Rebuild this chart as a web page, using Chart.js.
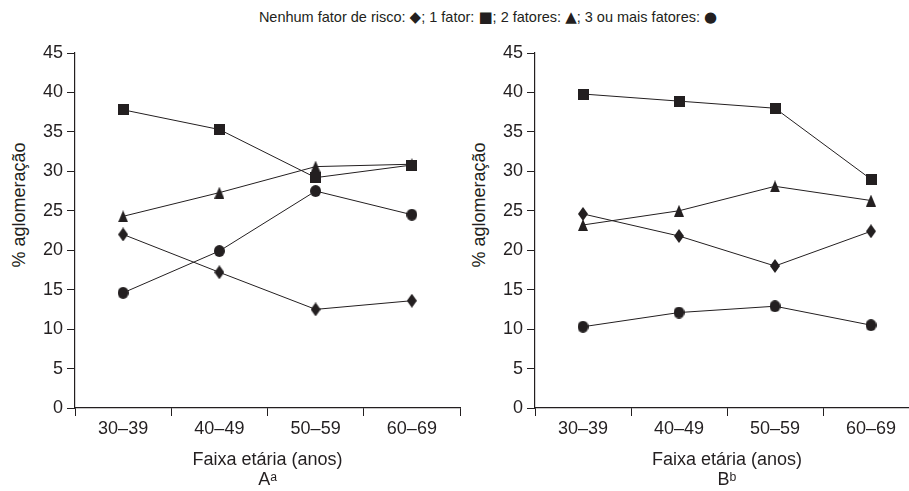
<!DOCTYPE html>
<html><head><meta charset="utf-8">
<script src="https://cdn.jsdelivr.net/npm/chart.js@4/dist/chart.umd.min.js"></script>
<style>
html,body{margin:0;padding:0;width:909px;height:491px;overflow:hidden;background:#fff;font-family:"Liberation Sans",Arial,sans-serif;color:#231f20;}
#title{position:absolute;left:0;width:976px;top:7px;text-align:center;font-size:14.5px;line-height:20px;white-space:nowrap;}
#title .s{font-family:"DejaVu Sans",sans-serif;font-size:15px;}
.ylab{position:absolute;font-size:18px;white-space:nowrap;transform:translate(-50%,-50%) rotate(-90deg);}
#wa{position:absolute;left:0;top:0;width:470px;height:491px;}
#wb{position:absolute;left:460px;top:0;width:469px;height:491px;}
</style></head>
<body>
<div id="title">Nenhum fator de risco: <span class="s">◆</span>; 1 fator: <span class="s">■</span>; 2 fatores: <span class="s">▲</span>; 3 ou mais fatores: <span class="s">●</span></div>
<div class="ylab" style="left:19px;top:205px;">% aglomeração</div>
<div class="ylab" style="left:479px;top:205px;">% aglomeração</div>
<div id="wa"><canvas id="ca" width="470" height="491"></canvas></div>
<div id="wb"><canvas id="cb" width="469" height="491"></canvas></div>
<script>
const categories = ['30–39','40–49','50–59','60–69'];
const seriesNames = ['Nenhum fator de risco','1 fator','2 fatores','3 ou mais fatores'];
const A_none  = [22.0, 17.2, 12.5, 13.6];
const A_one   = [37.8, 35.3, 29.2, 30.8];
const A_two   = [24.3, 27.3, 30.6, 30.9];
const A_three = [14.6, 19.9, 27.5, 24.5];
const B_none  = [24.6, 21.8, 18.0, 22.4];
const B_one   = [39.8, 38.9, 38.0, 29.0];
const B_two   = [23.2, 25.0, 28.1, 26.3];
const B_three = [10.3, 12.1, 12.9, 10.5];
const yTicks = [0,5,10,15,20,25,30,35,40,45];

const INK = '#231f20';
function marker(w,h,draw){
  const c=document.createElement('canvas');c.width=w;c.height=h;
  const x=c.getContext('2d');x.fillStyle=INK;x.beginPath();draw(x,w,h);x.fill();return c;
}
const mDiamond = marker(10,14,(x,w,h)=>{x.moveTo(w/2,0);x.lineTo(w,h/2);x.lineTo(w/2,h);x.lineTo(0,h/2);x.closePath();});
const mSquare  = marker(11,11,(x,w,h)=>{x.rect(0,0,w,h);});
const mTri     = marker(10,12,(x,w,h)=>{x.moveTo(w/2,0);x.lineTo(w,h);x.lineTo(0,h);x.closePath();});
const mCircle  = marker(11,12,(x,w,h)=>{x.ellipse(w/2,h/2,w/2,h/2,0,0,Math.PI*2);});
const styles=[mDiamond,mSquare,mTri,mCircle];

function makeChart(id, sets, xtitle){
  const ds = sets.map((d,i)=>({label:seriesNames[i],data:d,borderColor:INK,backgroundColor:INK,borderWidth:1,
    pointStyle:styles[i],pointRadius:6,pointHoverRadius:6,tension:0}));
  return new Chart(document.getElementById(id),{
    type:'line',
    data:{labels:categories,datasets:ds},
    options:{
      responsive:false,animation:false,events:[],
      layout:{padding:{left:0,top:53,right:10,bottom:0}},
      plugins:{legend:{display:false},tooltip:{enabled:false},title:{display:false}},
      scales:{
        x:{type:'category',offset:true,
          grid:{display:true,offset:true,drawOnChartArea:false,drawTicks:true,tickLength:8,color:INK,tickWidth:1},
          border:{display:true,color:INK,width:1.2},
          ticks:{color:INK,font:{family:'"Liberation Sans", Arial, sans-serif',size:18},padding:2,maxRotation:0},
          title:{display:true,text:xtitle,color:INK,font:{family:'"Liberation Sans", Arial, sans-serif',size:18,lineHeight:1.1},padding:{top:0,bottom:1}},
          afterFit:s=>{s.height=83;}
        },
        y:{min:0,max:45,
          afterBuildTicks:s=>{s.ticks=yTicks.map(v=>({value:v}));},
          grid:{display:true,drawOnChartArea:false,drawTicks:true,tickLength:8,color:INK,tickWidth:1},
          border:{display:true,color:INK,width:1.2},
          ticks:{color:INK,font:{family:'"Liberation Sans", Arial, sans-serif',size:18},padding:4},
          afterFit:s=>{s.width=75;}
        }
      }
    }
  });
}
makeChart('ca',[A_none,A_one,A_two,A_three],['Faixa etária (anos)','Aᵃ']);
makeChart('cb',[B_none,B_one,B_two,B_three],['Faixa etária (anos)','Bᵇ']);
</script>
</body></html>
